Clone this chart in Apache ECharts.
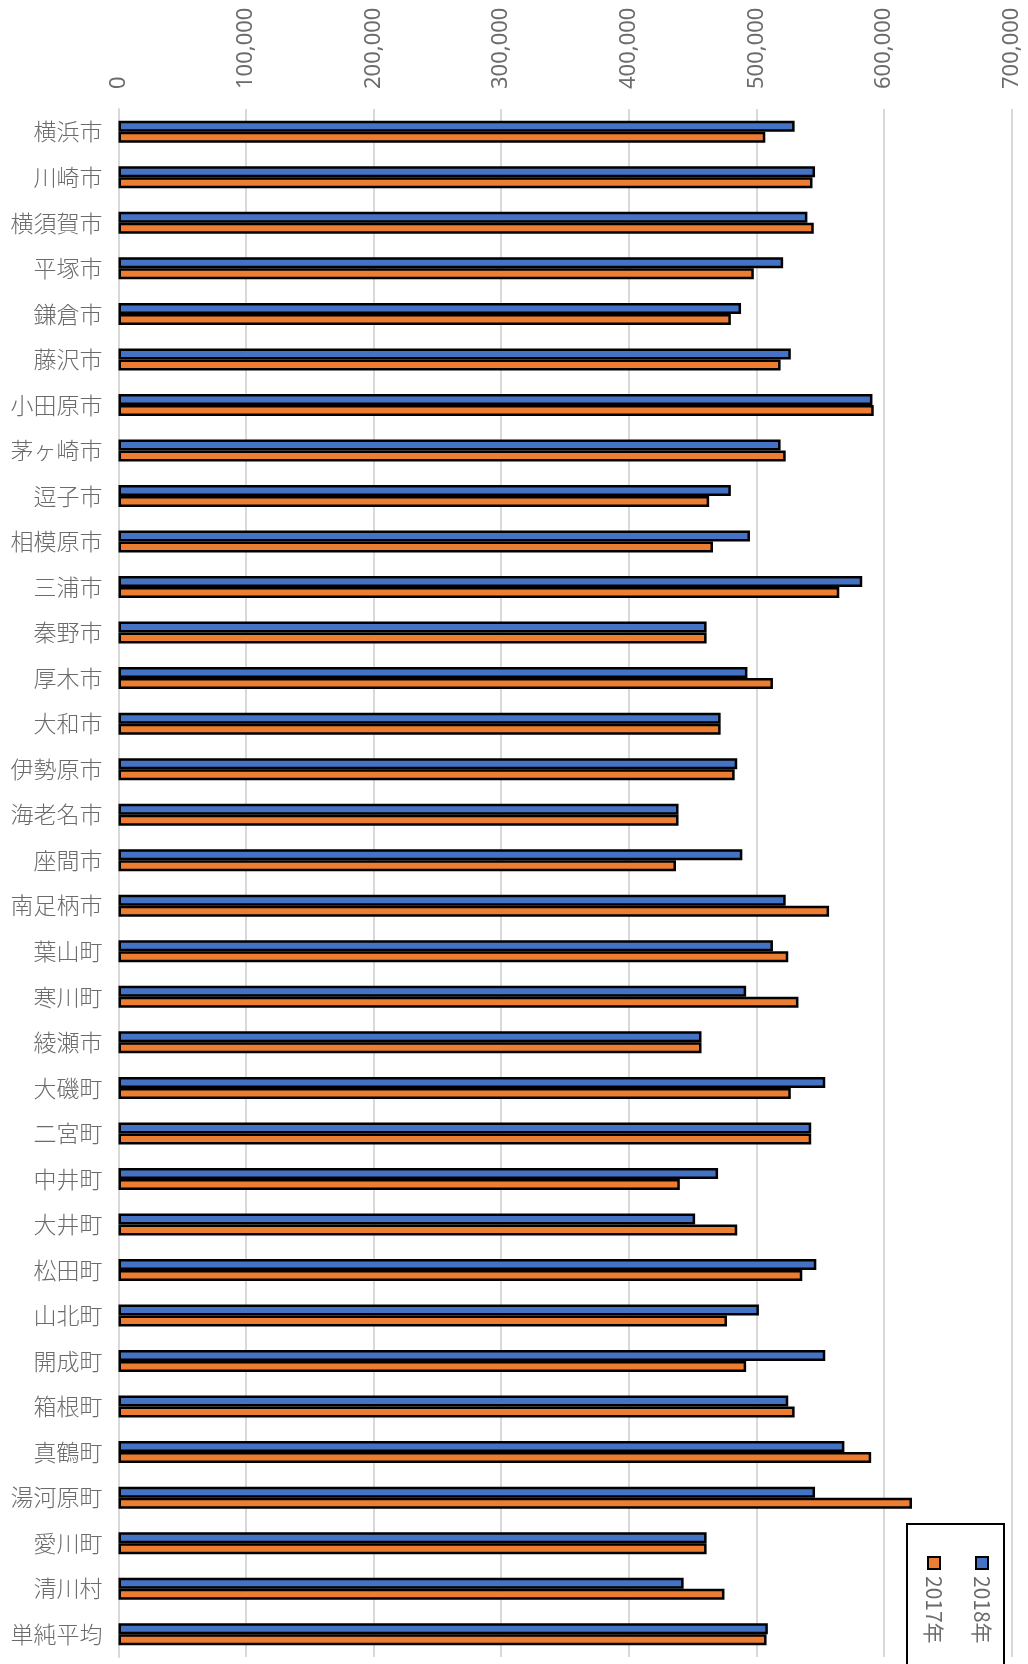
<!DOCTYPE html>
<html>
<head>
<meta charset="utf-8">
<script src="https://cdn.jsdelivr.net/npm/echarts@6/dist/echarts.min.js"></script>
<style>
html,body{margin:0;padding:0;background:#fff;}
#chart{width:1028px;height:1664px;}
</style>
</head>
<body>
<div id="chart"></div>
<script>
var categories = ['横浜市','川崎市','横須賀市','平塚市','鎌倉市','藤沢市','小田原市','茅ヶ崎市','逗子市','相模原市','三浦市','秦野市','厚木市','大和市','伊勢原市','海老名市','座間市','南足柄市','葉山町','寒川町','綾瀬市','大磯町','二宮町','中井町','大井町','松田町','山北町','開成町','箱根町','真鶴町','湯河原町','愛川町','清川村','単純平均'];
var values2018 = [530000,546000,540000,521000,488000,527000,591000,519000,480000,495000,583000,461000,493000,472000,485000,439000,489000,523000,513000,492000,457000,554000,543000,470000,452000,547000,502000,554000,525000,569000,546000,461000,443000,509000];
var values2017 = [507000,544000,545000,498000,480000,519000,592000,523000,463000,466000,565000,461000,513000,472000,483000,439000,437000,557000,525000,533000,457000,527000,543000,440000,485000,536000,477000,492000,530000,590000,622000,461000,475000,508000];
var seriesNames = ['2018年','2017年'];
var seriesColors = ['#4472C4','#ED7D31'];
var axisMax = 700000;
var axisInterval = 100000;

var chart = echarts.init(document.getElementById('chart'));
var textGray = '#6b6b6b';
var option = {
  animation: false,
  backgroundColor: '#ffffff',
  grid: {left: 118.5, right: 16.5, top: 109, bottom: 7, containLabel: false},
  xAxis: {
    type: 'value', position: 'top', min: 0, max: axisMax, interval: axisInterval,
    axisLine: {show: false}, axisTick: {show: false},
    splitLine: {show: true, lineStyle: {color: '#d9d9d9', width: 2}},
    axisLabel: {
      rotate: -90, margin: 20, color: textGray, fontSize: 22,
      fontFamily: 'Noto Sans',
      formatter: function (v) { return v.toLocaleString('en-US'); }
    }
  },
  yAxis: {
    type: 'category', data: categories, inverse: true,
    axisLine: {show: true, lineStyle: {color: '#d9d9d9', width: 2}},
    axisTick: {show: false},
    axisLabel: {color: textGray, fontSize: 23, margin: 16, fontFamily: 'Noto Sans CJK JP', fontWeight: 300}
  },
  series: [
    {name: seriesNames[0], type: 'bar', data: values2018, barWidth: 11, barGap: '0%',
     itemStyle: {color: seriesColors[0], borderColor: '#000', borderWidth: 2.5}},
    {name: seriesNames[1], type: 'bar', data: values2017, barWidth: 11, barGap: '0%',
     itemStyle: {color: seriesColors[1], borderColor: '#000', borderWidth: 2.5}}
  ],
  graphic: [
    {type: 'rect', shape: {x: 907, y: 1524, width: 97, height: 160},
     style: {fill: '#fff', stroke: '#000', lineWidth: 2}, z: 100},
    {type: 'rect', shape: {x: 976, y: 1557, width: 12, height: 12},
     style: {fill: seriesColors[0], stroke: '#000', lineWidth: 2}, z: 101},
    {type: 'text', x: 982, y: 1576, rotation: -Math.PI / 2, z: 101,
     style: {text: seriesNames[0], fill: textGray, fontSize: 21, fontFamily: 'Noto Sans CJK JP', align: 'left', verticalAlign: 'middle'}},
    {type: 'rect', shape: {x: 928, y: 1557, width: 12, height: 12},
     style: {fill: seriesColors[1], stroke: '#000', lineWidth: 2}, z: 101},
    {type: 'text', x: 934, y: 1576, rotation: -Math.PI / 2, z: 101,
     style: {text: seriesNames[1], fill: textGray, fontSize: 21, fontFamily: 'Noto Sans CJK JP', align: 'left', verticalAlign: 'middle'}}
  ]
};
chart.setOption(option);
</script>
</body>
</html>
